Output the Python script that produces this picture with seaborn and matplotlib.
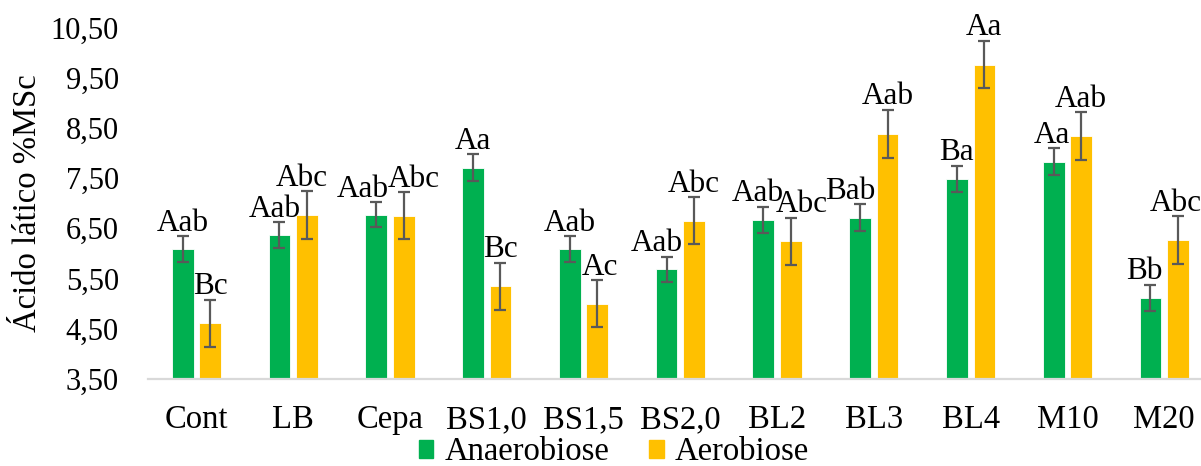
import pandas as pd
import numpy as np
import matplotlib.pyplot as plt
import seaborn as sns
from matplotlib.ticker import FuncFormatter, FixedLocator
from matplotlib.patches import Patch

tratamentos = ['Cont', 'LB', 'Cepa', 'BS1,0', 'BS1,5', 'BS2,0', 'BL2', 'BL3', 'BL4', 'M10', 'M20']
anaerobiose = [6.08, 6.36, 6.77, 7.71, 6.08, 5.68, 6.67, 6.71, 7.49, 7.83, 5.11]
aerobiose = [4.60, 6.76, 6.75, 5.34, 4.99, 6.65, 6.24, 8.39, 9.77, 8.34, 6.26]
erro_anaer = [0.26, 0.26, 0.25, 0.27, 0.26, 0.25, 0.26, 0.27, 0.26, 0.27, 0.26]
erro_aer = [0.47, 0.48, 0.47, 0.47, 0.47, 0.47, 0.47, 0.48, 0.47, 0.48, 0.48]
letras_anaer = ['Aab', 'Aab', 'Aab', 'Aa', 'Aab', 'Aab', 'Aab', 'Bab', 'Ba', 'Aa', 'Bb']
letras_aer = ['Bc', 'Abc', 'Abc', 'Bc', 'Ac', 'Abc', 'Abc', 'Aab', 'Aa', 'Aab', 'Abc']
yticks = [3.5, 4.5, 5.5, 6.5, 7.5, 8.5, 9.5, 10.5]

# pequenos deslocamentos (px) das letras para nao sobrepor, como no Excel
desloc_anaer = [0, -5, -13, 0, 0, -10, -6, -10, 0, -2, -6]
desloc_aer = [0, -5, 10, 0, 3, 0, 11, 0, 0, 0, -2]

data = pd.DataFrame({
    'trat': tratamentos * 2,
    'valor': anaerobiose + aerobiose,
    'cond': ['Anaerobiose'] * len(tratamentos) + ['Aerobiose'] * len(tratamentos),
})

sns.set_style('white')
plt.rcParams['font.family'] = ['Liberation Serif', 'DejaVu Serif']
plt.rcParams['text.color'] = 'black'
plt.rcParams['axes.labelcolor'] = 'black'
plt.rcParams['xtick.color'] = 'black'
plt.rcParams['ytick.color'] = 'black'

cores = {'Anaerobiose': '#00B050', 'Aerobiose': '#FFC000'}

fig = plt.figure(figsize=(12.01, 4.66), dpi=100)
ax = fig.add_axes([148 / 1201, 1 - 378.5 / 466, 1 - 148 / 1201, (378.5 - 28) / 466])

sns.barplot(data=data, x='trat', y='valor', hue='cond', palette=cores, saturation=1,
            width=0.568, gap=0.21, errorbar=None, legend=False, ax=ax,
            edgecolor='white', linewidth=0.6)

ax.set_ylim(3.5, 10.5)
ax.set_xlim(-0.5, 10.38)
ax.yaxis.set_major_locator(FixedLocator(yticks))
ax.yaxis.set_major_formatter(FuncFormatter(lambda v, p: f'{v:.2f}'.replace('.', ',')))

# barras de erro e letras acima de cada barra
for cont, erros, letras, desl in zip(ax.containers, [erro_anaer, erro_aer],
                                     [letras_anaer, letras_aer], [desloc_anaer, desloc_aer]):
    for bar, e, txt, dx in zip(cont, erros, letras, desl):
        xc = bar.get_x() + bar.get_width() / 2
        h = bar.get_y() + bar.get_height()
        ax.errorbar(xc, h, yerr=e, color='#595959', elinewidth=1.6,
                    capsize=4.3, capthick=1.6, zorder=5)
        ax.annotate(txt, (xc, h + e), xytext=(dx * 0.72, 4), textcoords='offset points',
                    ha='center', va='baseline', fontsize=22.5, color='black',
                    annotation_clip=False)

for s in ['top', 'right', 'left']:
    ax.spines[s].set_visible(False)
ax.spines['bottom'].set_color('#D9D9D9')
ax.spines['bottom'].set_linewidth(1.6)

ax.tick_params(axis='y', length=0, pad=21, labelsize=22)
ax.tick_params(axis='x', length=0, pad=19, labelsize=23.5)
ax.set_xlabel('')
ax.set_ylabel('Ácido lático %MSc', fontsize=23.5)
ax.yaxis.set_label_coords(-0.1, 0.5)

handles = [Patch(color=cores[k], label=k) for k in ['Anaerobiose', 'Aerobiose']]
fig.legend(handles=handles, loc='lower center', bbox_to_anchor=(614 / 1201, -0.045),
           ncol=2, frameon=False, fontsize=23.5, handlelength=0.45, handleheight=0.45,
           handletextpad=0.35, columnspacing=1.2, borderpad=0.1)

fig.savefig('out.png', dpi=100)
